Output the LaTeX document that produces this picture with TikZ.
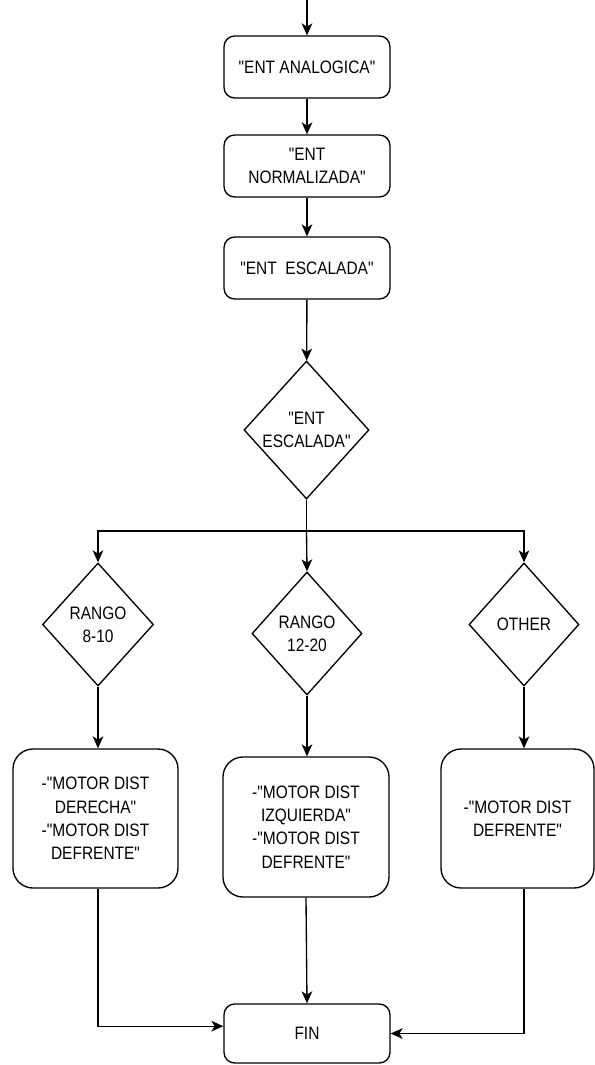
\documentclass[tikz,border=0pt]{standalone}
\usepackage{fontspec}
% a family without the TeX input mapping, so " stays a straight quote
\newfontfamily\diagfont[FakeStretch=0.86]{Liberation Sans}
\usetikzlibrary{arrows.meta,shapes.geometric}
\begin{document}
\begin{tikzpicture}[x=0.75pt,y=-0.75pt,
  every node/.style={font=\diagfont\fontsize{13.5}{17.5}\selectfont, align=center, text=black},
  box/.style={draw, line width=1pt, rounded corners=8pt, inner sep=0pt},
  bigbox/.style={box, rounded corners=15pt, minimum height=104.25pt},
  dia/.style={draw, diamond, line width=1pt, inner sep=0pt},
  lbl/.style={inner sep=0pt},
  flow/.style={line width=1pt, -{Stealth[length=9pt,width=8pt,inset=2.5pt]}},
  wire/.style={line width=1pt}]
\useasboundingbox (0,0) rectangle (595,1065);

% main chain
\coordinate (top) at (307,0);
\node[box, minimum width=124.5pt, minimum height=46.5pt] (b1) at (307,67) {"ENT ANALOGICA"};
\node[box, minimum width=124.5pt, minimum height=46.5pt] (b2) at (307,166) {"ENT\\NORMALIZADA"};
\node[box, minimum width=124.5pt, minimum height=46.5pt] (b3) at (307,268) {"ENT\ \ ESCALADA"};
\node[dia, minimum width=93.75pt, minimum height=103.5pt] (d0) at (306.5,430) {};
\node[lbl] (d0t) at (d0) {"ENT\\ESCALADA"};

% branch decisions
\coordinate (split) at (306.5,531);
\node[dia, minimum width=83.25pt, minimum height=92.25pt] (dL) at (98,624.5) {};
\node[lbl] (dLt) at (dL) {RANGO\\8-10};
\node[dia, minimum width=82.5pt, minimum height=92.25pt] (dM) at (307,633.5) {};
\node[lbl] (dMt) at (dM) {RANGO\\12-20};
\node[dia, minimum width=82.5pt, minimum height=92.25pt] (dR) at (524,624.5) {};
\node[lbl] (dRt) at (dR) {OTHER};

% actions
\node[bigbox, minimum width=123.75pt] (bL) at (95.5,818.5)
  {-"MOTOR DIST\\DERECHA"\\-"MOTOR DIST\\DEFRENTE"};
\node[bigbox, minimum width=124.5pt, minimum height=105pt] (bM) at (306,827)
  {-"MOTOR DIST\\IZQUIERDA"\\-"MOTOR DIST\\DEFRENTE"};
\node[bigbox, minimum width=114.75pt] (bR) at (517.5,818.5)
  {-"MOTOR DIST\\DEFRENTE"};

% end
\node[box, minimum width=124.5pt, minimum height=44.25pt] (fin) at (307,1033.5) {FIN};

% connectors
\draw[flow] (top) -- (b1);
\draw[flow] (b1) -- (b2);
\draw[flow] (b2) -- (b3);
\draw[flow] (b3) -- (d0);
\draw[wire] (d0.south) -- (split);
\draw[flow] (split) -| (dL.north);
\draw[flow] (split) -- (dM.north);
\draw[flow] (split) -| (dR.north);
\draw[flow] (dL.south) -- (dL.south |- bL.north);
\draw[flow] (dM.south) -- (dM.south |- bM.north);
\draw[flow] (dR.south) -- (dR.south |- bR.north);
\draw[flow] (dL.south |- bL.south) |- (fin.175);
\draw[flow] (bM.south) -- (fin.north);
\draw[flow] (dR.south |- bR.south) |- (fin.east);
\end{tikzpicture}
\end{document}
